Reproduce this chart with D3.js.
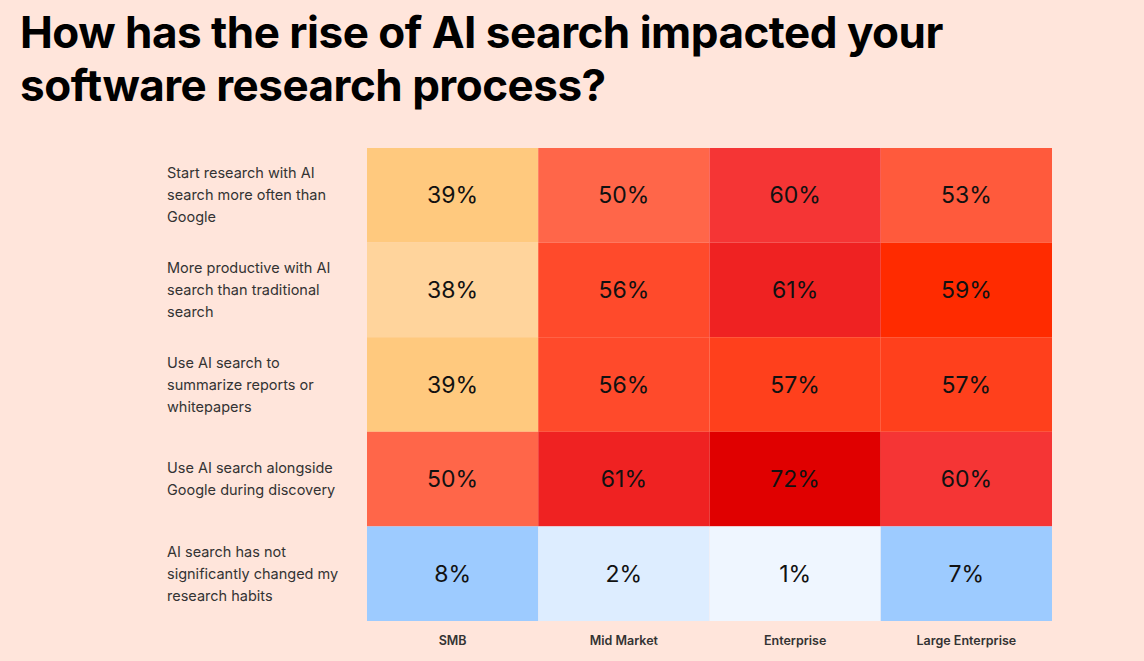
<!DOCTYPE html>
<html><head><meta charset="utf-8">
<script src="https://cdn.jsdelivr.net/npm/d3@7"></script>
<style>body{margin:0;background:#ffe5db;font-family:Inter,"Noto Sans",sans-serif}</style>
</head><body><svg id="c" width="1144" height="661"></svg>
<script>
const columns = ["SMB","Mid Market","Enterprise","Large Enterprise"];
const rows = [
 ["Start research with AI","search more often than","Google"],
 ["More productive with AI","search than traditional","search"],
 ["Use AI search to","summarize reports or","whitepapers"],
 ["Use AI search alongside","Google during discovery"],
 ["AI search has not","significantly changed my","research habits"]
];
const values = [
 [39,50,60,53],
 [38,56,61,59],
 [39,56,57,57],
 [50,61,72,60],
 [8,2,1,7]
];
const colorDomain = [1,2,7,8,38,39,50,53,56,57,59,60,61,72];
const colorRange = ["#eff6ff","#ddedff","#9dcbff","#9dcbff","#ffd49c","#ffc97e","#ff6649","#ff5a3c","#ff4a2b","#ff401c","#ff2b00","#f53535","#ef2222","#e00000"];

const svg = d3.select("#c");
svg.append("rect").attr("width",1144).attr("height",661).attr("fill","#ffe5db");
const title = svg.append("text").attr("x",20).attr("font-size",44).attr("font-weight",700).attr("fill","#000").attr("letter-spacing",-0.5);
title.append("tspan").attr("x",20).attr("y",48).text("How has the rise of AI search impacted your");
title.append("tspan").attr("x",20).attr("y",101).text("software research process?");

const x = d3.scaleBand().domain(columns).range([367,1052]);
const y = d3.scaleBand().domain(d3.range(rows.length)).range([148,621]);
const color = d3.scaleOrdinal().domain(colorDomain).range(colorRange);

values.forEach((r,i)=>r.forEach((v,j)=>{
  const g = svg.append("g");
  g.append("rect").attr("x",x(columns[j])).attr("y",y(i)).attr("width",x.bandwidth()).attr("height",y.bandwidth()).attr("fill",color(v));
  g.append("text").attr("x",x(columns[j])+x.bandwidth()/2).attr("y",y(i)+y.bandwidth()/2+8)
   .attr("text-anchor","middle").attr("font-size",23).attr("fill","#111").text(v+"%");
}));

rows.forEach((lines,i)=>{
  const t = svg.append("text").attr("font-size",14.5).attr("fill","#333");
  const lh = 22, cy = y(i)+y.bandwidth()/2;
  lines.forEach((l,k)=>t.append("tspan").attr("x",167).attr("y",cy+(k-(lines.length-1)/2)*lh+5).text(l));
});

columns.forEach(c=>svg.append("text").attr("x",x(c)+x.bandwidth()/2).attr("y",645).attr("text-anchor","middle")
  .attr("font-size",12.5).attr("font-weight",600).attr("fill","#333").text(c));
</script></body></html>
